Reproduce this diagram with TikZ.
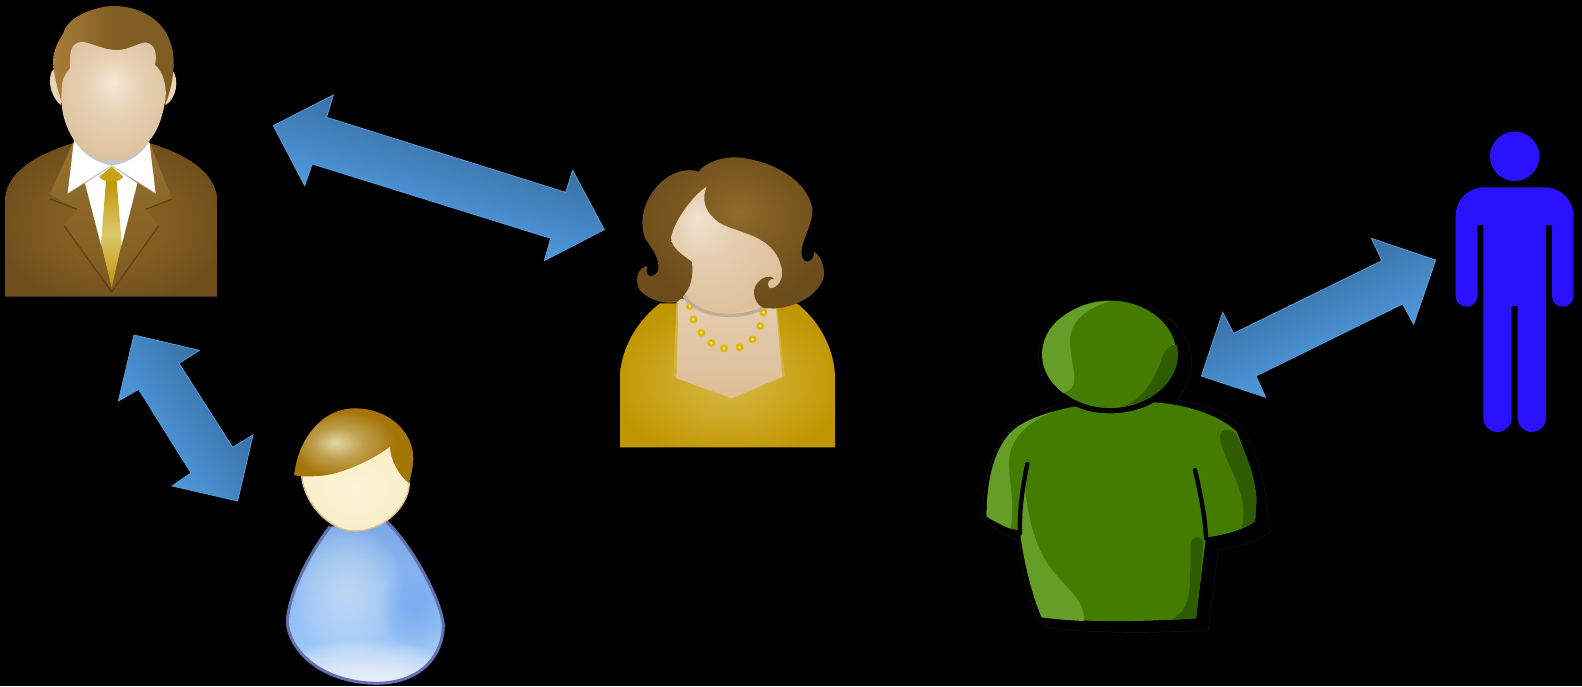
\documentclass[tikz,border=0pt]{standalone}
\usetikzlibrary{calc}
\definecolor{manhot}{HTML}{F6E9D8}\definecolor{manmid}{HTML}{E8D3B6}\definecolor{manout}{HTML}{DCC09C}
\definecolor{suitin}{HTML}{8C6628}\definecolor{suitmid}{HTML}{7F5C21}\definecolor{suitout}{HTML}{6F4E1B}
\definecolor{goldin}{HTML}{D6B742}\definecolor{goldmid}{HTML}{C9A41A}\definecolor{goldout}{HTML}{BF9500}
\definecolor{wface}{HTML}{F0E3D1}\definecolor{wfacemid}{HTML}{E5CDAE}\definecolor{wfaceout}{HTML}{DDBE98}
\definecolor{hairin}{HTML}{8F6C2C}\definecolor{hairmid}{HTML}{7E5C22}\definecolor{hairout}{HTML}{6C4C1A}
\definecolor{boyin}{HTML}{E0D8A4}\definecolor{boymid}{HTML}{C0A050}\definecolor{boyout}{HTML}{A47608}
\definecolor{boyf}{HTML}{FBF3D6}\definecolor{boyfm}{HTML}{FAEFC8}\definecolor{boyfo}{HTML}{F0DDB8}
\definecolor{greenbase}{HTML}{447C00}\definecolor{greenlight}{HTML}{659E26}\definecolor{greendark}{HTML}{2F5C00}
\definecolor{manblue}{HTML}{2A12FF}
\definecolor{grey1}{HTML}{BFAE94}\definecolor{blue1}{HTML}{7BA8E6}\definecolor{blue2}{HTML}{A8CFFA}\definecolor{blue3}{HTML}{8DBBF5}
\definecolor{blue4}{HTML}{D4EAFF}\definecolor{blue5}{HTML}{6FA5F2}\definecolor{boyedge}{HTML}{6470B0}\definecolor{boyskin}{HTML}{E2BE94}
\definecolor{faint}{HTML}{161616}\definecolor{tiemid}{HTML}{DCC86E}\definecolor{lapeltop}{HTML}{97722F}\definecolor{lapelbot}{HTML}{7C5A20}
\pgfdeclareradialshading{manface}{\pgfpoint{0bp}{8bp}}{color(0bp)=(manhot);color(11bp)=(manmid);color(30bp)=(manout);color(50bp)=(manout)}
\pgfdeclareradialshading{mansuit}{\pgfpoint{0bp}{-2bp}}{color(0bp)=(suitin);color(14bp)=(suitmid);color(28bp)=(suitout);color(50bp)=(suitout)}
\pgfdeclareradialshading{wgold}{\pgfpoint{0bp}{-3.5bp}}{color(0bp)=(goldin);color(17bp)=(goldmid);color(28bp)=(goldout);color(50bp)=(goldout)}
\pgfdeclareradialshading{wfaceshade}{\pgfpoint{-14bp}{13bp}}{color(0bp)=(wface);color(14bp)=(wfacemid);color(35bp)=(wfaceout);color(50bp)=(wfaceout)}
\pgfdeclareradialshading{whair}{\pgfpoint{2bp}{7bp}}{color(0bp)=(hairin);color(11bp)=(hairmid);color(27bp)=(hairout);color(50bp)=(hairout)}
\pgfdeclareradialshading{boyhair}{\pgfpoint{-8bp}{2bp}}{color(0bp)=(boyin);color(10bp)=(boymid);color(22bp)=(boyout);color(50bp)=(boyout)}
\pgfdeclareradialshading{boyface}{\pgfpoint{0bp}{0bp}}{color(0bp)=(boyf);color(25bp)=(boyfm);color(35bp)=(boyfo);color(50bp)=(boyfo)}
\tikzset{
  arrowedge/.style={draw=arrowline,line width=0.8pt,line join=miter},
  zoomed/.style={scale=1/3},
  lapelline/.style={draw=lineb,line width=1.2pt},
  pearl/.style={draw=pearlc,fill=pearlin,line width=2.4pt},
}
\definecolor{arrowline}{HTML}{5B9BD5}\definecolor{lineb}{HTML}{5A4215}
\definecolor{pearlc}{HTML}{DDB900}\definecolor{pearlin}{HTML}{F3E9B0}
\newcommand{\twoarrow}[4]{%
  \begin{scope}
    \clip[shift={(#1)},zoomed] #2 -- cycle;
    \fill[transform canvas={rotate around={#4:(#3)}},top color=arrowa,bottom color=arrowb]
      ($(#3)+(-260,-48)$) rectangle ($(#3)+(260,48)$);
  \end{scope}
  \draw[shift={(#1)},zoomed,arrowedge] #2 -- cycle;
}
\newcommand{\hairpiece}[1]{%
  \begin{scope}
    \clip #1 -- cycle;
    \shade[shading=whair] (80,35) rectangle (645,490);
  \end{scope}
}
\definecolor{arrowa}{HTML}{3870A4}\definecolor{arrowb}{HTML}{509ADF}
\begin{document}
\begin{tikzpicture}[x=1pt,y=-1pt]
\useasboundingbox (0,0) rectangle (1582,686);
\fill[black] (0,0) rectangle (1582,686);

% ---------- man
\begin{scope}[zoomed]
\shade[shading=mansuit] (16,890) -- (16,590) .. controls (25,510) and (120,460) .. (218,430) -- (450,430) .. controls (550,460) and (640,510) .. (651,590) -- (651,890) -- cycle;
\shade[top color=lapeltop,bottom color=lapelbot] (218,430) -- (150,583) -- (232,628) -- (192,677) -- (335,875) -- (476,677) -- (437,628) -- (516,597) -- (450,430) -- cycle;
\draw[lapelline] (150,597) -- (232,628);
\draw[lapelline] (516,597) -- (437,628);
\draw[lapelline] (192,677) -- (335,875) -- (476,677);
\fill[white] (255,550) -- (335,497) -- (412,550) -- (365,735) -- (303,735) -- cycle;
\fill[white] (222,420) -- (203,580) -- (335,497) -- (467,580) -- (448,425) -- cycle;
\draw[black!25,line width=0.7pt] (203,580) -- (335,497) -- (467,580);
\shade[top color=goldout,bottom color=goldout,middle color=tiemid] (318,543) -- (303,730) -- (335,862) -- (365,730) -- (350,543) -- cycle;
\fill[goldmid] (298,530) -- (335,500) -- (370,530) .. controls (362,540) and (355,543) .. (350,543) -- (318,543) .. controls (312,543) and (305,538) .. (298,530) -- cycle;
\fill[manmid] (160,208) .. controls (143,225) and (145,285) .. (183,315) -- (200,240) -- cycle;
\fill[manmid] (520,215) .. controls (537,240) and (530,295) .. (497,315) -- (480,240) -- cycle;
\shade[left color=hairin!85!orange!90!white,right color=hairmid,middle color=hairmid!90!hairin] (185,305) .. controls (170,260) and (160,220) .. (160,180) .. controls (160,150) and (175,125) .. (190,100) .. controls (200,50) and (290,18) .. (340,18) .. controls (420,18) and (490,60) .. (510,125) .. controls (522,150) and (522,190) .. (520,210) .. controls (518,250) and (505,290) .. (497,310) -- cycle;
\fill[black!22] (222,420) .. controls (260,475) and (300,490) .. (335,497) .. controls (375,490) and (415,475) .. (448,425) -- cycle;
\shade[shading=manface] (210,205) .. controls (210,170) and (205,130) .. (245,125) .. controls (280,130) and (310,150) .. (350,150) .. controls (390,150) and (420,125) .. (440,128) .. controls (470,135) and (470,170) .. (465,195) .. controls (490,215) and (500,260) .. (497,290) .. controls (490,350) and (470,400) .. (445,425) .. controls (410,470) and (370,480) .. (335,480) .. controls (300,480) and (260,470) .. (225,425) .. controls (195,380) and (180,330) .. (185,270) .. controls (185,240) and (195,220) .. (210,205) -- cycle;
\end{scope}

% ---------- woman
\begin{scope}[shift={(610,145)},zoomed]
\shade[shading=wgold] (30,907) -- (30,690) .. controls (35,600) and (90,520) .. (150,475) -- (560,475) .. controls (620,520) and (670,600) .. (675,690) -- (675,907) -- cycle;
\fill[goldin!80!goldmid] (190,695) -- (365,768) -- (525,695) -- (500,480) -- (200,460) -- cycle;
\shade[top color=wfacemid,bottom color=wfaceout] (205,460) -- (200,700) -- (365,760) -- (517,695) -- (497,480) -- cycle;
\foreach \px/\py in {240/483,250/523,274/563,304/594,342/610,389/607,428/583,451/543,460/502}
  \draw[pearl] (\px,\py) circle (8);
% hair blob
\hairpiece{(265,80) .. controls (290,50) and (340,35) .. (380,37) .. controls (480,45) and (590,100) .. (607,190) .. controls (610,240) and (570,290) .. (575,330) .. controls (580,360) and (610,355) .. (613,320) .. controls (640,340) and (645,380) .. (640,400) .. controls (620,460) and (540,490) .. (490,490) .. controls (450,490) and (400,400) .. (300,350) .. controls (250,420) and (235,450) .. (200,470) .. controls (170,480) and (115,465) .. (90,435) .. controls (75,410) and (80,375) .. (105,365) .. controls (120,362) and (105,375) .. (110,385) .. controls (115,400) and (140,395) .. (145,375) .. controls (150,340) and (125,310) .. (105,280) .. controls (85,220) and (105,160) .. (150,115) .. controls (190,75) and (240,70) .. (265,80)}
\shade[shading=wfaceshade] (290,125) .. controls (275,160) and (280,200) .. (330,235) .. controls (390,265) and (470,270) .. (505,340) .. controls (525,385) and (520,420) .. (490,450) .. controls (450,495) and (390,505) .. (340,503) .. controls (280,500) and (240,480) .. (222,450) .. controls (250,420) and (250,370) .. (245,350) .. controls (220,330) and (185,310) .. (183,280) .. controls (190,230) and (250,150) .. (290,125) -- cycle;
\draw[draw=grey1,line width=3.4pt] (222,452) .. controls (260,520) and (400,528) .. (470,483);
\hairpiece{(432,435) .. controls (440,400) and (480,385) .. (492,402) .. controls (480,398) and (465,415) .. (480,430) .. controls (505,430) and (520,400) .. (517,372) .. controls (560,400) and (590,420) .. (540,478) .. controls (510,492) and (490,490) .. (470,490) .. controls (445,490) and (430,460) .. (432,435)}
\hairpiece{(245,350) .. controls (250,400) and (235,450) .. (200,470) .. controls (170,480) and (115,465) .. (90,435) .. controls (75,410) and (80,375) .. (105,365) .. controls (120,362) and (105,375) .. (110,385) .. controls (115,400) and (140,395) .. (145,375) .. controls (150,345) and (200,320) .. (245,350)}
\end{scope}

% ---------- boy
\begin{scope}[shift={(275,395)},zoomed]
\shade[top color=blue1,bottom color=blue2,middle color=blue3] (165,395) .. controls (100,480) and (40,600) .. (37,680) .. controls (40,760) and (130,860) .. (300,865) .. controls (450,865) and (505,770) .. (505,690) .. controls (495,600) and (400,440) .. (335,380) -- cycle;
\begin{scope}
\clip (165,395) .. controls (100,480) and (40,600) .. (37,680) .. controls (40,760) and (130,860) .. (300,865) .. controls (450,865) and (505,770) .. (505,690) .. controls (495,600) and (400,440) .. (335,380) -- cycle;
\foreach \k in {1,...,22} \fill[blue4,opacity=0.06] (215,590) ellipse ({175-7.5*\k} and {210-9.5*\k});
\foreach \k in {1,...,16} \fill[blue5,opacity=0.04] (420,640) ellipse ({110-6.5*\k} and {130-8*\k});
\foreach \k in {1,...,40} \fill[white,opacity=0.05] (270,930) ellipse ({365-6*\k} and {200-4*\k});
\end{scope}
\draw[boyedge,line width=3pt] (165,395) .. controls (100,480) and (40,600) .. (37,680) .. controls (40,760) and (130,860) .. (300,865) .. controls (450,865) and (505,770) .. (505,690) .. controls (495,600) and (400,440) .. (335,380);
\shade[shading=boyface,draw=boyskin,line width=1.4pt] (80,240) .. controls (85,320) and (160,408) .. (240,408) .. controls (320,408) and (400,340) .. (403,265) -- (345,155) -- cycle;
\shade[shading=boyhair] (58,240) .. controls (65,150) and (130,40) .. (240,40) .. controls (340,40) and (415,110) .. (415,190) .. controls (415,220) and (405,250) .. (402,265) .. controls (370,240) and (345,190) .. (345,155) .. controls (300,190) and (200,240) .. (130,243) .. controls (100,245) and (70,245) .. (58,240) -- cycle;
\end{scope}

% ---------- green person
\begin{scope}[shift={(970,285)},zoomed]
\draw[draw=faint,line width=0.5pt] (205,210) .. controls (210,110) and (310,35) .. (420,35) .. controls (550,35) and (665,130) .. (665,230) .. controls (665,280) and (640,320) .. (620,345) .. controls (700,355) and (780,385) .. (820,430) .. controls (860,510) and (895,600) .. (895,745) .. controls (850,775) and (800,785) .. (745,795) -- (715,1035) .. controls (550,1045) and (400,1045) .. (240,1030) -- (205,1005) .. controls (175,930) and (155,850) .. (150,770) .. controls (110,750) and (70,730) .. (38,700) .. controls (35,600) and (70,470) .. (130,420) .. controls (180,385) and (240,365) .. (300,352) .. controls (235,310) and (205,265) .. (205,210) -- cycle;
\fill[greenbase] (318,365) .. controls (230,380) and (150,410) .. (120,445) .. controls (70,500) and (50,590) .. (50,695) .. controls (80,715) and (110,730) .. (150,737) .. controls (160,830) and (190,940) .. (215,997) .. controls (380,1015) and (550,1008) .. (678,1000) .. controls (690,900) and (700,820) .. (708,757) .. controls (770,750) and (830,730) .. (855,708) .. controls (860,660) and (855,570) .. (800,440) .. controls (760,400) and (670,360) .. (552,352) .. controls (520,372) and (470,385) .. (420,385) .. controls (380,385) and (345,378) .. (318,365) -- cycle;
\fill[greenlight] (318,365) .. controls (230,375) and (120,430) .. (117,530) .. controls (117,600) and (135,650) .. (122,732) -- (50,695) .. controls (50,590) and (70,500) .. (120,445) .. controls (150,410) and (230,380) .. (318,365) -- cycle;
\fill[greenlight] (165,590) .. controls (170,700) and (200,800) .. (250,860) .. controls (300,920) and (345,950) .. (342,1008) .. controls (300,1006) and (250,1002) .. (215,997) .. controls (190,940) and (160,830) .. (150,737) .. controls (150,680) and (160,620) .. (165,590) -- cycle;
\fill[greendark] (750,455) .. controls (750,430) and (785,430) .. (795,445) .. controls (830,500) and (860,590) .. (860,650) -- (855,708) .. controls (840,722) and (825,725) .. (815,728) .. controls (825,690) and (820,640) .. (800,590) .. controls (770,520) and (750,480) .. (750,455) -- cycle;
\fill[greendark] (663,770) .. controls (670,750) and (695,755) .. (700,770) .. controls (695,850) and (685,940) .. (678,1000) -- (600,1005) .. controls (640,990) and (660,950) .. (660,880) .. controls (662,830) and (660,800) .. (663,770) -- cycle;
\draw[black,line width=4.4pt,line cap=round] (172,537) .. controls (155,620) and (148,680) .. (150,745);
\draw[black,line width=4.4pt,line cap=round] (675,555) .. controls (690,620) and (705,690) .. (708,760);
\fill[greenbase,draw=black,line width=4.4pt] (420,208) ellipse (206 and 168);
\begin{scope}
\clip (420,208) ellipse (204 and 160);
\fill[greenlight] (420,48) .. controls (340,75) and (300,110) .. (300,170) .. controls (300,220) and (320,270) .. (310,300) .. controls (300,320) and (280,325) .. (270,325) .. controls (230,290) and (210,250) .. (210,208) .. controls (210,120) and (320,48) .. (420,48) -- cycle;
\fill[greendark] (440,368) .. controls (500,360) and (550,300) .. (575,220) .. controls (585,190) and (610,170) .. (630,185) -- (640,380) -- cycle;
\end{scope}
\end{scope}

% ---------- blue figure
\begin{scope}[shift={(1190,120)},zoomed]
\fill[manblue] (974,109) circle (74);
\fill[manblue] (797,287) .. controls (797,240) and (835,202) .. (882,202) -- (1065,202) .. controls (1112,202) and (1150,240) .. (1150,287) -- (1150,528) .. controls (1150,546) and (1136,560) .. (1118,560) .. controls (1100,560) and (1086,546) .. (1086,528) -- (1086,316) -- (1068,316) -- (1068,893) .. controls (1068,917) and (1049,936) .. (1025,936) .. controls (1002,936) and (983,917) .. (983,893) -- (983,558) -- (965,558) -- (965,893) .. controls (965,917) and (946,936) .. (922,936) .. controls (899,936) and (880,917) .. (880,893) -- (880,316) -- (862,316) -- (862,528) .. controls (862,546) and (848,560) .. (830,560) .. controls (811,560) and (797,546) .. (797,528) -- cycle;
\end{scope}

% ---------- arrows
\twoarrow{100,85}{(520,122) -- (700,30) -- (680,97) -- (1397,322) -- (1418,256) -- (1513,434) -- (1333,527) -- (1352,460) -- (637,237) -- (614,302)}{438.7,177.7}{-17.4}
\twoarrow{100,85}{(102,750) -- (298,796) -- (237,835) -- (398,1087) -- (459,1050) -- (413,1248) -- (216,1203) -- (273,1164) -- (116,913) -- (55,948)}{185.8,418}{-57.4}
\twoarrow{1190,120}{(34,768) -- (98,577) -- (131,640) -- (576,422) -- (544,355) -- (737,420) -- (671,613) -- (638,552) -- (198,768) -- (227,832)}{1318.5,318}{26}
\end{tikzpicture}
\end{document}
